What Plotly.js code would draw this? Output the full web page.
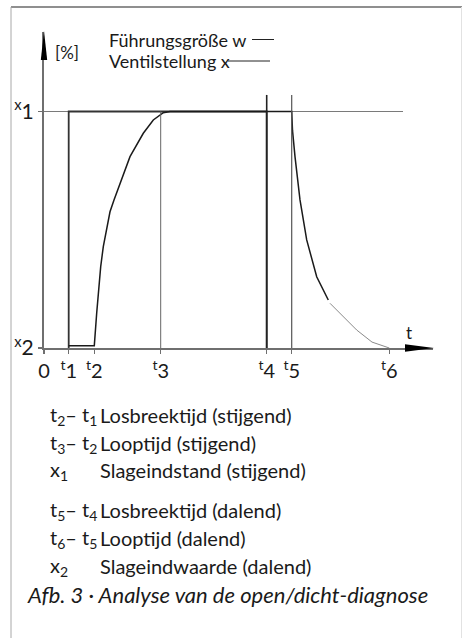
<!DOCTYPE html>
<html>
<head>
<meta charset="utf-8">
<script src="https://cdn.plot.ly/plotly-3.0.1.min.js"></script>
<style>html,body{margin:0;padding:0;background:#fff;}#chart{width:462px;height:638px;}</style>
</head>
<body>
<div id="chart"></div>
<script>
// ---- data (time in arbitrary units, position in %) ----
const timeMarks = [0, 2.47, 5.03, 11.67, 22.27, 24.77, 34.53]; // 0, t1..t6
const timeLabels = ["0", "<sup>t</sup>1", "<sup>t</sup>2", "<sup>t</sup>3", "<sup>t</sup>4", "<sup>t</sup>5", "<sup>t</sup>6"];
const levelVals = [0, 100];
const levelLabels = ["<sup>x</sup>2", "<sup>x</sup>1"];

// Führungsgröße w (setpoint step)
const wTime = [2.47, 2.47, 22.27, 22.27];
const wVal  = [0, 100, 100, 0];

// Ventilstellung x (valve position), main stroke
const xTime = [2.47, 5.03, 5.27, 5.53, 5.67, 5.93, 6.33, 6.60, 7.00, 7.77, 8.60, 9.93, 10.93, 11.93, 12.60, 24.77, 24.85, 25.10, 25.60, 26.27, 27.27, 28.43];
const xVal  = [1.0, 1.0, 14.8, 28.8, 34.4, 42.9, 52.7, 57.6, 62.6, 71.0, 80.9, 90.8, 96.4, 99.5, 100, 100, 92, 80.9, 62.6, 45.7, 30.1, 20.3];
// Ventilstellung x, faint tail
const tailTime = [28.60, 30.60, 31.27, 32.80, 34.53];
const tailVal  = [18.9, 10.4, 7.6, 2.5, 0];

// bottom legend text
const noteLeft  = ["t<sub>2</sub>– t<sub>1</sub>", "t<sub>3</sub>– t<sub>2</sub>", "x<sub>1</sub>", "t<sub>5</sub>– t<sub>4</sub>", "t<sub>6</sub>– t<sub>5</sub>", "x<sub>2</sub>"];
const noteRight = ["Losbreektijd (stijgend)", "Looptijd (stijgend)", "Slageindstand (stijgend)", "Losbreektijd (dalend)", "Looptijd (dalend)", "Slageindwaarde (dalend)"];
const caption = "Afb. 3 · Analyse van de open/dicht-diagnose";

// ---- layout geometry (pixels) ----
const L = 44, R = 433, T = 32, B = 348;
const xMax = (R - L) / 10, yMax = (B - T) / 2.365;
const px = p => (p - L) / (R - L);
const py = p => (B - p) / (B - T);
const FONT = "Lato, 'Noto Sans', sans-serif";
const AX = "#6f6f6f";

const traces = [
  {x: wTime, y: wVal, mode: "lines", line: {color: "#333", width: 1.8}, cliponaxis: false, hoverinfo: "skip"},
  {x: xTime, y: xVal, mode: "lines", line: {color: "#1a1a1a", width: 1.5}, cliponaxis: false, hoverinfo: "skip"},
  {x: tailTime, y: tailVal, mode: "lines", line: {color: "#8a8a8a", width: 1}, cliponaxis: false, hoverinfo: "skip"}
];

const shapes = [
  // x1 reference line
  {type: "line", xref: "x", yref: "y", x0: 0, x1: 35.9, y0: 100, y1: 100, line: {color: "#7a7a7a", width: 1}, layer: "below"},
  // t3 marker
  {type: "line", xref: "x", yref: "y", x0: timeMarks[3], x1: timeMarks[3], y0: 0, y1: 100, line: {color: "#666", width: 1}},
  // t4 marker
  {type: "line", xref: "x", yref: "y", x0: timeMarks[4], x1: timeMarks[4], y0: 0, y1: 107, line: {color: "#222", width: 1.6}},
  // t5 marker
  {type: "line", xref: "x", yref: "y", x0: timeMarks[5], x1: timeMarks[5], y0: 0, y1: 107, line: {color: "#555", width: 1.2}},
  // arrowheads
  {type: "path", xref: "paper", yref: "paper", path: `M ${px(44)},${py(31)} L ${px(40.8)},${py(60)} L ${px(47.2)},${py(60)} Z`, fillcolor: "#000", line: {width: 0}},
  {type: "path", xref: "paper", yref: "paper", path: `M ${px(434)},${py(348)} L ${px(405)},${py(344.3)} L ${px(405)},${py(351.7)} Z`, fillcolor: "#000", line: {width: 0}},
  // legend line samples
  {type: "line", xref: "paper", yref: "paper", x0: px(252), x1: px(274), y0: py(39.5), y1: py(39.5), line: {color: "#222", width: 1}},
  {type: "line", xref: "paper", yref: "paper", x0: px(228), x1: px(270), y0: py(61), y1: py(61), line: {color: "#222", width: 1}},
  // frame
  {type: "line", xref: "paper", yref: "paper", x0: px(11), x1: px(462), y0: py(7), y1: py(7), line: {color: "#6a6a6a", width: 1.5}},
  {type: "line", xref: "paper", yref: "paper", x0: px(11), x1: px(11), y0: py(7), y1: py(638), line: {color: "#a8a8a8", width: 1}},
  {type: "line", xref: "paper", yref: "paper", x0: px(461.5), x1: px(461.5), y0: py(7), y1: py(638), line: {color: "#e2e2e2", width: 1}}
];

const ann = (text, x, y, size, extra) => Object.assign({
  text: text, xref: "paper", yref: "paper", x: px(x), y: py(y), xanchor: "left", yanchor: "middle",
  showarrow: false, font: {family: FONT, size: size, color: "#1a1a1a"}
}, extra || {});

const annotations = [
  ann("Führungsgröße w", 107, 40, 18),
  ann("Ventilstellung x", 107, 61, 18),
  ann("[%]", 53, 52, 17),
  ann("t", 404, 332, 17)
];
const rowsY = [415, 443, 470, 510, 538, 566];
noteLeft.forEach((t, i) => annotations.push(ann(t, 48, rowsY[i], 20)));
noteRight.forEach((t, i) => annotations.push(ann(t, 98, rowsY[i], 20)));
annotations.push(ann(caption, 25, 594, 22, {font: {family: FONT, size: 22, color: "#1a1a1a", style: "italic"}}));

const layout = {
  width: 462, height: 638,
  margin: {l: L, r: 462 - R, t: T, b: 638 - B, pad: 0},
  paper_bgcolor: "#fff", plot_bgcolor: "#fff",
  showlegend: false,
  xaxis: {range: [0, xMax], showgrid: false, zeroline: false, showline: true, linecolor: AX, linewidth: 2,
          tickvals: timeMarks, ticktext: timeLabels, ticks: "outside", ticklen: 4, tickcolor: AX, tickwidth: 1.2,
          tickfont: {family: FONT, size: 20, color: "#1a1a1a"}, fixedrange: true},
  yaxis: {range: [0, yMax], showgrid: false, zeroline: false, showline: true, linecolor: AX, linewidth: 2,
          tickvals: levelVals, ticktext: levelLabels, ticks: "outside", ticklen: 4, tickcolor: AX, tickwidth: 1.2,
          tickfont: {family: FONT, size: 21, color: "#1a1a1a"}, fixedrange: true},
  shapes: shapes,
  annotations: annotations
};

Plotly.newPlot("chart", traces, layout, {displayModeBar: false, staticPlot: true});
</script>
</body>
</html>
